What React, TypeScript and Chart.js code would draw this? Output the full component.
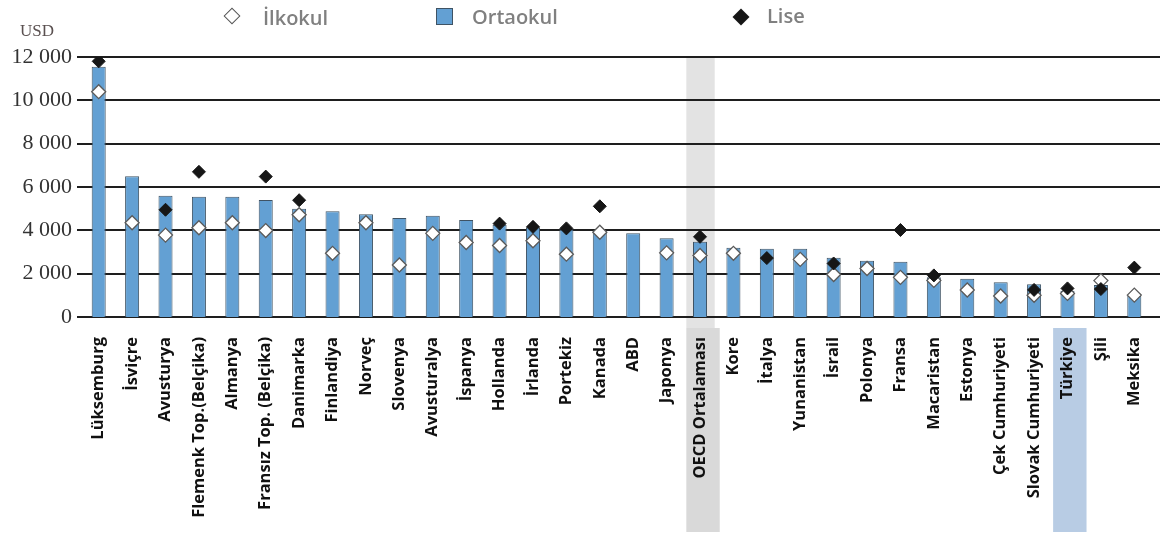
import React, { useEffect, useRef } from "react";
import { Chart, registerables } from "chart.js";

Chart.register(...registerables);

// Ülkeler (yüksekten düşüğe Ortaokul harcamasına göre)
const categories = [
  "Lüksemburg", "İsviçre", "Avusturya", "Flemenk Top.(Belçika)", "Almanya",
  "Fransız Top. (Belçika)", "Danimarka", "Finlandiya", "Norveç", "Slovenya",
  "Avusturalya", "İspanya", "Hollanda", "İrlanda", "Portekiz", "Kanada",
  "ABD", "Japonya", "OECD Ortalaması", "Kore", "İtalya", "Yunanistan",
  "İsrail", "Polonya", "Fransa", "Macaristan", "Estonya", "Çek Cumhuriyeti",
  "Slovak Cumhuriyeti", "Türkiye", "Şili", "Meksika",
];

// Ortaokul (çubuklar), USD
const ortaokul = [
  11550, 6500, 5600, 5550, 5550, 5400, 5000, 4880, 4740, 4570,
  4670, 4480, 4260, 4140, 4050, 3990, 3860, 3640, 3475, 3200,
  3150, 3150, 2730, 2600, 2550, 1830, 1760, 1600, 1510, 1215,
  1475, 970,
];

// İlkokul (beyaz baklava), USD
const ilkokul: (number | null)[] = [
  10400, 4350, 3780, 4120, 4350, 3990, 4720, 2940, 4350, 2400,
  3860, 3440, 3300, 3520, 2900, 3910, null, 2960, 2840, 2940,
  null, 2660, 1960, 2240, 1830, 1690, 1245, 970, 1000, 1090,
  1680, 1010,
];

// Lise (siyah baklava), USD
const lise: (number | null)[] = [
  11800, null, 4950, 6700, null, 6480, 5390, null, null, null,
  null, null, 4310, 4160, 4090, 5110, null, null, 3700, null,
  2720, null, 2470, null, 4015, 1920, null, null, 1250, 1320,
  1290, 2280,
];

const yTickStep = 2000;
const yMax = 12000;

const BAR_FILL = "#63a0d3";
const BAR_EDGE = "#3f5364";

const formatUsd = (v: number) =>
  v === 0 ? "0" : `${Math.floor(v / 1000)} ${String(v % 1000).padStart(3, "0")}`;

const backdropPlugin = {
  id: "backdrop",
  beforeDraw(chart: any) {
    const { ctx, chartArea, scales } = chart;
    const x = scales.x;
    const catW = x.getPixelForValue(1) - x.getPixelForValue(0);
    const labelTop = chartArea.bottom + 11;
    const labelBottom = chart.height - 3;
    ctx.save();
    const oc = x.getPixelForValue(categories.indexOf("OECD Ortalaması"));
    ctx.fillStyle = "#e3e3e3";
    ctx.fillRect(oc - 0.41 * catW, chartArea.top, 0.85 * catW, labelTop - chartArea.top);
    ctx.fillStyle = "#d9d9d9";
    ctx.fillRect(oc - 0.41 * catW, labelTop, catW, labelBottom - labelTop);
    const tc = x.getPixelForValue(categories.indexOf("Türkiye"));
    ctx.fillStyle = "#b8cce4";
    ctx.fillRect(tc - 0.43 * catW, labelTop, catW, labelBottom - labelTop);
    ctx.restore();
  },
  beforeDatasetsDraw(chart: any) {
    const { ctx, chartArea, scales } = chart;
    const y = scales.y;
    ctx.save();
    ctx.strokeStyle = "#1e1e1e";
    ctx.lineWidth = 1.8;
    y.ticks.forEach((t: any) => {
      const py = Math.round(y.getPixelForValue(t.value));
      ctx.beginPath();
      ctx.moveTo(chartArea.left - 5, py);
      ctx.lineTo(chart.width - 2, py);
      ctx.stroke();
    });
    ctx.restore();
  },
};

const legendText: React.CSSProperties = {
  position: "absolute",
  fontFamily: '"Open Sans", sans-serif',
  fontWeight: 600,
  fontSize: 20,
  lineHeight: "24px",
  color: "#808080",
  whiteSpace: "nowrap",
};

export default function App() {
  const canvasRef = useRef<HTMLCanvasElement | null>(null);

  useEffect(() => {
    if (!canvasRef.current) return;
    const chart = new Chart(canvasRef.current, {
      type: "bar",
      data: {
        labels: categories,
        datasets: [
          {
            type: "line",
            label: "Lise",
            data: lise,
            showLine: false,
            pointStyle: "rectRot",
            pointRadius: 6.5,
            pointBackgroundColor: "#161616",
            pointBorderColor: "#161616",
            pointBorderWidth: 1,
            order: 1,
          } as any,
          {
            type: "line",
            label: "İlkokul",
            data: ilkokul,
            showLine: false,
            pointStyle: "rectRot",
            pointRadius: 7,
            pointBackgroundColor: "#ffffff",
            pointBorderColor: "#5a5a5a",
            pointBorderWidth: 1.3,
            order: 2,
          } as any,
          {
            type: "bar",
            label: "Ortaokul",
            data: ortaokul,
            backgroundColor: BAR_FILL,
            borderColor: BAR_EDGE,
            borderWidth: 1,
            barPercentage: 0.42,
            categoryPercentage: 1,
            order: 3,
          } as any,
        ],
      },
      options: {
        animation: false,
        responsive: true,
        maintainAspectRatio: false,
        events: [],
        layout: { padding: { top: 57, right: 11, left: 0, bottom: 0 } },
        plugins: { legend: { display: false }, tooltip: { enabled: false } },
        scales: {
          x: {
            grid: { display: false, drawTicks: false },
            border: { display: false },
            ticks: {
              autoSkip: false,
              minRotation: 90,
              maxRotation: 90,
              padding: 20,
              color: "#111111",
              font: { family: '"Open Sans", sans-serif', size: 16.5, weight: "bold" },
            },
            afterFit: (s: any) => {
              s.height = 218;
              s.paddingLeft = 0;
              s.paddingRight = 0;
            },
          },
          y: {
            min: 0,
            max: yMax,
            grid: { display: false, drawTicks: false },
            border: { display: false },
            ticks: {
              stepSize: yTickStep,
              padding: 10,
              color: "#333333",
              font: { family: '"Liberation Serif", serif', size: 22 },
              callback: (v: any) => formatUsd(Number(v)),
            },
            afterFit: (s: any) => {
              s.width = 82;
            },
          },
        },
      },
      plugins: [backdropPlugin],
    });
    return () => chart.destroy();
  }, []);

  return (
    <div
      style={{
        position: "absolute",
        left: 0,
        top: 0,
        width: 1162,
        height: 535,
        background: "#ffffff",
        overflow: "hidden",
      }}
    >
      <canvas ref={canvasRef} style={{ position: "absolute", left: 0, top: 0 }} />
      <div
        style={{
          position: "absolute",
          left: 20,
          top: 21,
          fontFamily: '"Liberation Serif", serif',
          fontSize: 17,
          lineHeight: "20px",
          color: "#5a5050",
        }}
      >
        USD
      </div>
      {/* legend */}
      <div
        style={{
          position: "absolute",
          left: 226,
          top: 10,
          width: 10,
          height: 10,
          background: "#ffffff",
          border: "1.5px solid #555555",
          transform: "rotate(45deg)",
        }}
      />
      <div style={{ ...legendText, left: 263, top: 6 }}>İlkokul</div>
      <div
        style={{
          position: "absolute",
          left: 436,
          top: 8,
          width: 15,
          height: 15,
          background: BAR_FILL,
          border: `1px solid ${BAR_EDGE}`,
        }}
      />
      <div style={{ ...legendText, left: 472, top: 5 }}>Ortaokul</div>
      <div
        style={{
          position: "absolute",
          left: 735,
          top: 11,
          width: 12,
          height: 12,
          background: "#161616",
          transform: "rotate(45deg)",
        }}
      />
      <div style={{ ...legendText, left: 767, top: 4 }}>Lise</div>
    </div>
  );
}
